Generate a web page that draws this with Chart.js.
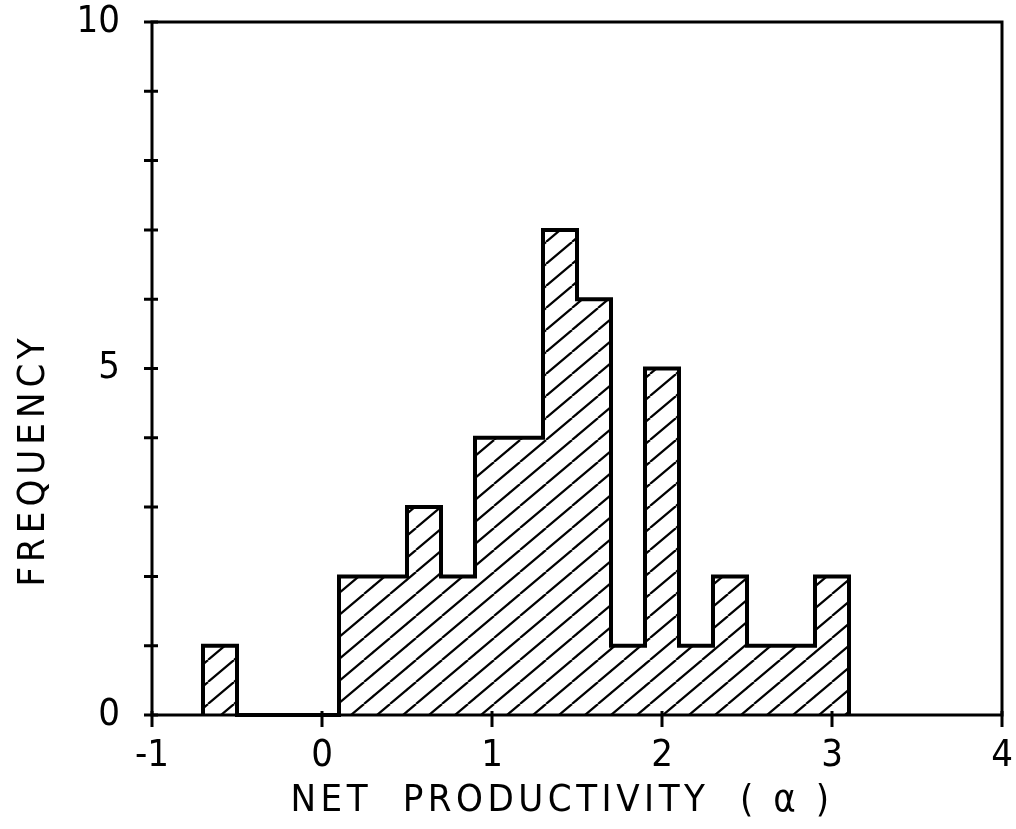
<!DOCTYPE html>
<html>
<head>
<meta charset="utf-8">
<script src="https://cdn.jsdelivr.net/npm/chart.js@4/dist/chart.umd.min.js"></script>
<style>
    html, body { margin: 0; padding: 0; background: #fff; }
    #wrap { width: 1016px; height: 829px; }
</style>
</head>
<body>
<div id="wrap"><canvas id="chart" width="1016" height="829"></canvas></div>
<script>
// Histogram data (bin centres, bin width 0.2)
const binCenters = [-0.6, -0.4, -0.2, 0.0, 0.2, 0.4, 0.6, 0.8, 1.0, 1.2, 1.4, 1.6, 1.8, 2.0, 2.2, 2.4, 2.6, 2.8, 3.0];
const counts = [1, 0, 0, 0, 2, 2, 3, 2, 4, 4, 7, 6, 1, 5, 1, 2, 1, 1, 2];
const binWidth = 0.2;
const xTicks = [-1, 0, 1, 2, 3, 4];
const yLabelTicks = [0, 5, 10];
const xTitle = 'NET  PRODUCTIVITY  ( α )';
const yTitle = 'FREQUENCY';

const FONT = "'DejaVu Sans Condensed', 'DejaVu Sans', sans-serif";

// diagonal hatching used for the bars
function makeHatch(ctx) {
    const w = 26, h = 22;
    const tile = document.createElement('canvas');
    tile.width = w;
    tile.height = h;
    const g = tile.getContext('2d');
    g.strokeStyle = '#000';
    g.lineWidth = 2.2;
    [-w, 0, w].forEach(off => {
        g.beginPath();
        g.moveTo(off, h);
        g.lineTo(off + w, 0);
        g.stroke();
    });
    return ctx.createPattern(tile, 'repeat');
}

// step outline of the histogram, built from the bins
const outline = [{ x: binCenters[0] - binWidth / 2, y: 0 }];
binCenters.forEach((c, i) => outline.push({ x: c - binWidth / 2, y: counts[i] }));
outline.push({ x: binCenters[binCenters.length - 1] + binWidth / 2, y: 0 });

// frame, tick marks and axis titles
const framePlugin = {
    id: 'frame',
    afterDraw(chart) {
        const ctx = chart.ctx;
        const area = chart.chartArea;
        const xs = chart.scales.x, ys = chart.scales.y;
        ctx.save();
        ctx.strokeStyle = '#000';
        ctx.lineWidth = 3;
        ctx.strokeRect(area.left, area.top, area.right - area.left, area.bottom - area.top);

        ctx.beginPath();
        ys.ticks.forEach(t => {
            const py = ys.getPixelForValue(t.value);
            ctx.moveTo(area.left - 8, py);
            ctx.lineTo(area.left + 6, py);
        });
        xTicks.forEach(v => {
            const px = xs.getPixelForValue(v);
            ctx.moveTo(px, area.bottom - 4);
            ctx.lineTo(px, area.bottom + 12);
        });
        ctx.stroke();

        ctx.fillStyle = '#000';
        ctx.font = '38px ' + FONT;
        ctx.textAlign = 'center';
        ctx.textBaseline = 'middle';
        ctx.letterSpacing = '4.5px';
        ctx.fillText(xTitle, (area.left + area.right) / 2 - 15, area.bottom + 86);

        ctx.letterSpacing = '5px';
        ctx.translate(34, area.bottom - 255);
        ctx.rotate(-Math.PI / 2);
        ctx.fillText(yTitle, 0, 0);
        ctx.restore();
    }
};

const canvas = document.getElementById('chart');
const ctx = canvas.getContext('2d');

new Chart(ctx, {
    data: {
        datasets: [{
            type: 'line',
            data: outline,
            stepped: 'before',
            borderColor: '#000',
            borderWidth: 4,
            pointRadius: 0,
            fill: false,
            clip: false,
            order: 0
        }, {
            type: 'bar',
            data: binCenters.map((x, i) => ({ x: x, y: counts[i] })),
            backgroundColor: makeHatch(ctx),
            borderWidth: 0,
            barPercentage: 1,
            categoryPercentage: 1,
            order: 1
        }]
    },
    options: {
        responsive: false,
        animation: false,
        layout: {
            padding: { top: 22, right: 14, left: 0, bottom: 0 }
        },
        scales: {
            x: {
                type: 'linear',
                min: -1,
                max: 4,
                offset: false,
                afterBuildTicks: scale => {
                    scale.ticks = xTicks.map(v => ({ value: v }));
                },
                afterFit: scale => {
                    scale.height = 114;
                    scale.paddingLeft = 0;
                    scale.paddingRight = 0;
                },
                grid: { display: false, offset: false },
                border: { display: false },
                ticks: {
                    color: '#000',
                    padding: 10,
                    maxRotation: 0,
                    font: { family: FONT, size: 38 }
                }
            },
            y: {
                min: 0,
                max: 10,
                afterFit: scale => {
                    scale.width = 152;
                    scale.paddingTop = 0;
                    scale.paddingBottom = 0;
                },
                grid: { display: false },
                border: { display: false },
                ticks: {
                    stepSize: 1,
                    color: '#000',
                    padding: 24,
                    font: { family: FONT, size: 38 },
                    callback: v => yLabelTicks.includes(v) ? String(v) : ''
                }
            }
        },
        plugins: {
            legend: { display: false },
            tooltip: { enabled: false }
        }
    },
    plugins: [framePlugin]
});
</script>
</body>
</html>
